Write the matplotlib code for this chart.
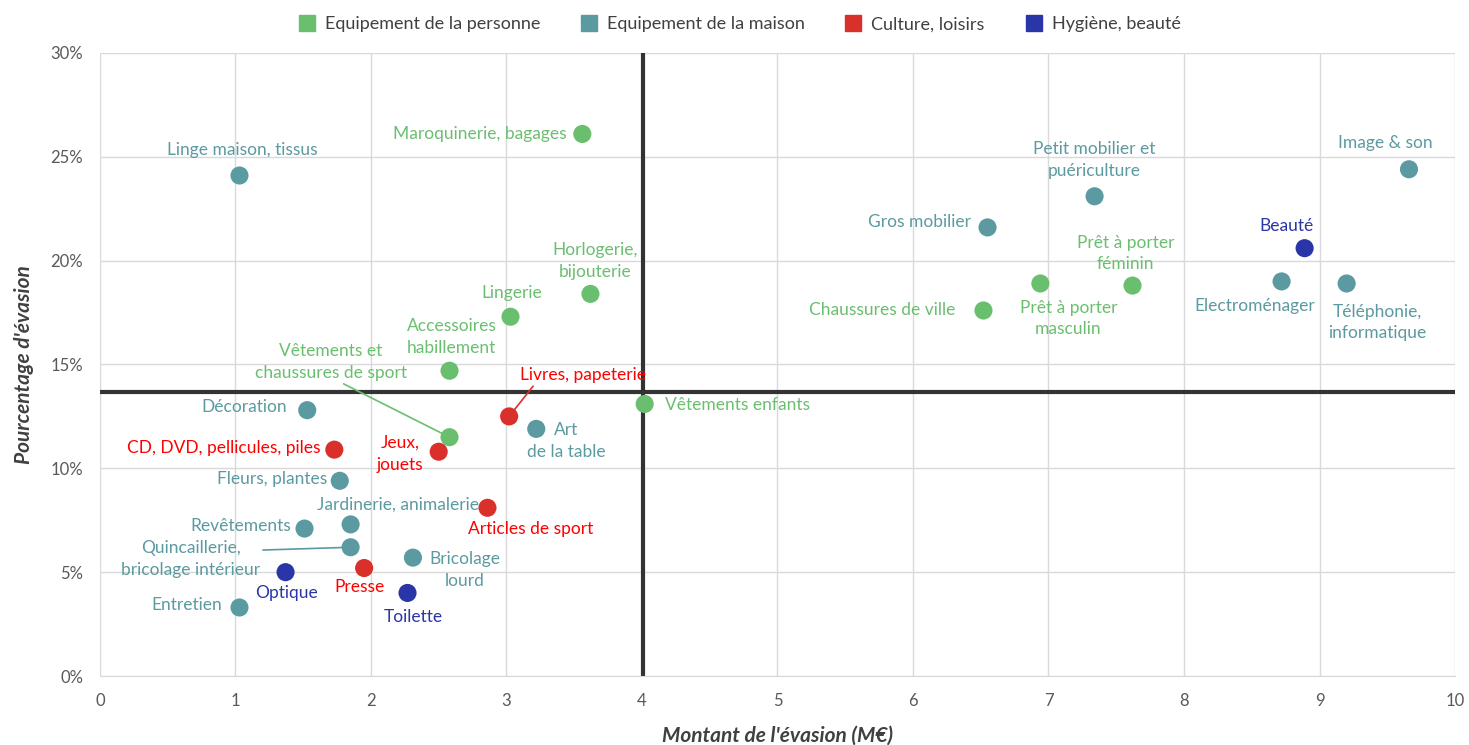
import matplotlib
matplotlib.use("Agg")
from matplotlib import pyplot as plt
from matplotlib.ticker import FuncFormatter, MultipleLocator
from matplotlib.lines import Line2D

plt.rcParams['font.family'] = ['Lato', 'DejaVu Sans']

# données
perso_noms = ['Maroquinerie, bagages', 'Horlogerie,\nbijouterie', 'Lingerie',
              'Accessoires\nhabillement', 'Vêtements et\nchaussures de sport',
              'Vêtements enfants', 'Chaussures de ville',
              'Prêt à porter\nmasculin', 'Prêt à porter\nféminin']
perso_x = [3.56, 3.62, 3.03, 2.58, 2.58, 4.02, 6.52, 6.94, 7.62]
perso_y = [26.1, 18.4, 17.3, 14.7, 11.5, 13.1, 17.6, 18.9, 18.8]

maison_noms = ['Linge maison, tissus', 'Image & son', 'Petit mobilier et\npuériculture',
               'Gros mobilier', 'Electroménager', 'Téléphonie,\ninformatique',
               'Décoration', 'Art\nde la table', 'Fleurs, plantes',
               'Jardinerie, animalerie', 'Revêtements',
               'Quincaillerie,\nbricolage intérieur', 'Bricolage\nlourd', 'Entretien']
maison_x = [1.03, 9.66, 7.34, 6.55, 8.72, 9.20, 1.53, 3.22, 1.77, 1.85, 1.51, 1.85, 2.31, 1.03]
maison_y = [24.1, 24.4, 23.1, 21.6, 19.0, 18.9, 12.8, 11.9, 9.4, 7.3, 7.1, 6.2, 5.7, 3.3]

culture_noms = ['Livres, papeterie', 'CD, DVD, pellicules, piles', 'Jeux,\njouets',
                'Articles de sport', 'Presse']
culture_x = [3.02, 1.73, 2.50, 2.86, 1.95]
culture_y = [12.5, 10.9, 10.8, 8.1, 5.2]

hygiene_noms = ['Beauté', 'Optique', 'Toilette']
hygiene_x = [8.89, 1.37, 2.27]
hygiene_y = [20.6, 5.0, 4.0]

moy_x = 4.005
moy_y = 13.67

# placement des étiquettes (décalage en pixels, alignement)
place = {
    'Maroquinerie, bagages': (-16, 0, 'right'),
    'Horlogerie,\nbijouterie': (5, 33, 'center'),
    'Lingerie': (1, 24, 'center'),
    'Accessoires\nhabillement': (2, 34, 'center'),
    'Vêtements et\nchaussures de sport': (-119, 75, 'center'),
    'Vêtements enfants': (20, -1, 'left'),
    'Chaussures de ville': (-28, 0, 'right'),
    'Prêt à porter\nmasculin': (28, -35, 'center'),
    'Prêt à porter\nféminin': (-7, 32, 'center'),
    'Linge maison, tissus': (3, 26, 'center'),
    'Image & son': (-24, 26, 'center'),
    'Petit mobilier et\npuériculture': (0, 36, 'center'),
    'Gros mobilier': (-17, 5, 'right'),
    'Electroménager': (-27, -25, 'center'),
    'Téléphonie,\ninformatique': (31, -39, 'center'),
    'Décoration': (-20, 3, 'right'),
    'Art\nde la table': (30, -12, 'center'),
    'Fleurs, plantes': (-13, 2, 'right'),
    'Jardinerie, animalerie': (47, 20, 'center'),
    'Revêtements': (-13, 3, 'right'),
    'Quincaillerie,\nbricolage intérieur': (-160, -12, 'center'),
    'Bricolage\nlourd': (52, -12, 'center'),
    'Entretien': (-17, 2, 'right'),
    'Livres, papeterie': (74, 41, 'center'),
    'CD, DVD, pellicules, piles': (-14, 2, 'right'),
    'Jeux,\njouets': (-39, -2, 'center'),
    'Articles de sport': (43, -21, 'center'),
    'Presse': (-5, -19, 'center'),
    'Beauté': (-18, 22, 'center'),
    'Optique': (1, -21, 'center'),
    'Toilette': (6, -24, 'center'),
}
avec_trait = {
    'Vêtements et\nchaussures de sport': (0.55, 0.0),
    'Livres, papeterie': (0.12, 0.0),
    'Quincaillerie,\nbricolage intérieur': (0.82, 0.72),
}

series = [
    ('Equipement de la personne', perso_noms, perso_x, perso_y, '#6abf6f', '#6abf6f'),
    ('Equipement de la maison', maison_noms, maison_x, maison_y, '#5b9aa0', '#5b9aa0'),
    ('Culture, loisirs', culture_noms, culture_x, culture_y, '#d9302c', '#ff0000'),
    ('Hygiène, beauté', hygiene_noms, hygiene_x, hygiene_y, '#2a35a8', '#2a35a8'),
]

fig = plt.figure(figsize=(14.69, 7.45), dpi=100)
ax = fig.add_axes([0.068, 0.0926, 0.9225, 0.8363])

ax.axvline(moy_x, color='#333333', lw=3, zorder=2)
ax.axhline(moy_y, color='#333333', lw=3, zorder=2)

for nom, noms, xs, ys, coul, coul_txt in series:
    ax.scatter(xs, ys, s=170, color=coul, edgecolors='none', zorder=4)
    for n, x, y in zip(noms, xs, ys):
        dx, dy, ha = place[n]
        kw = {}
        if n in avec_trait:
            kw['arrowprops'] = dict(arrowstyle='-', color=coul, lw=1.2,
                                    relpos=avec_trait[n], shrinkA=0, shrinkB=5)
        ax.annotate(n, (x, y), xytext=(dx, dy), textcoords='offset pixels',
                    ha=ha, va='center', multialignment='center', fontsize=12.5,
                    color=coul_txt, linespacing=1.45, zorder=5, **kw)

ax.set_xlim(0, 10)
ax.set_ylim(0, 30)
ax.xaxis.set_major_locator(MultipleLocator(1))
ax.yaxis.set_major_locator(MultipleLocator(5))
ax.yaxis.set_major_formatter(FuncFormatter(lambda v, p: '%d%%' % v))
ax.grid(color='#d9d9d9', lw=1)
ax.set_axisbelow(True)
ax.tick_params(length=0, labelsize=12, colors='#595959', pad=12)
for s in ax.spines.values():
    s.set_visible(False)
ax.spines['bottom'].set_visible(True)
ax.spines['bottom'].set_color('#d9d9d9')

ax.set_xlabel("Montant de l'évasion (M€)", fontsize=15, fontweight='bold',
              fontstyle='italic', color='#404040', labelpad=12)
ax.set_ylabel("Pourcentage d'évasion", fontsize=15, fontweight='bold',
              fontstyle='italic', color='#404040', labelpad=12)

poignees = [Line2D([], [], marker='s', ls='', color=c, markersize=11) for _, _, _, _, c, _ in series]
fig.legend(poignees, [s[0] for s in series], loc='upper center', ncol=4,
           bbox_to_anchor=(0.5, 1.0), frameon=False, fontsize=13,
           handletextpad=0.0, columnspacing=1.7, labelcolor='#404040')

fig.savefig('out.png', dpi=100)
